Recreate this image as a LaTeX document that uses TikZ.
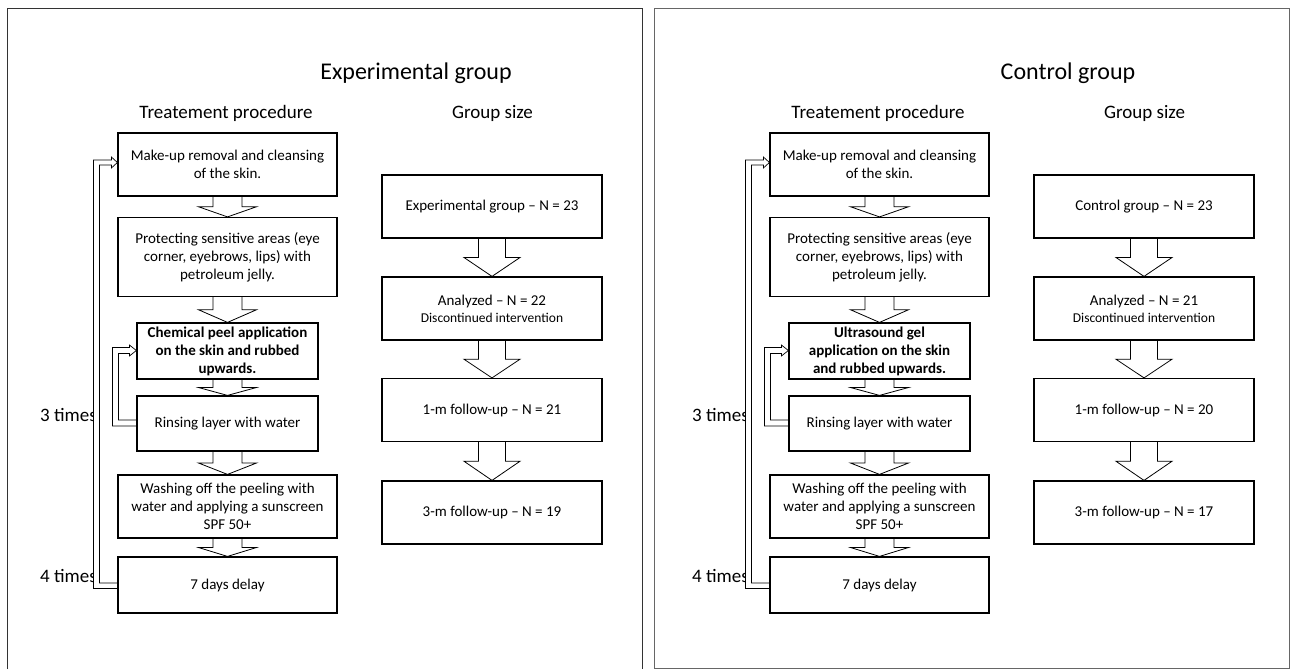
\documentclass[tikz,border=0pt]{standalone}
\usepackage{fontspec}
\setmainfont{Carlito}
\usetikzlibrary{calc,backgrounds}

\tikzset{
  stepbox/.style={draw=black, line width=1.2pt, inner sep=0pt, align=center,
    font=\fontsize{15}{18}\selectfont},
  widebox/.style={stepbox, minimum width=219pt},
  narrowbox/.style={stepbox, minimum width=181pt},
  gbox/.style={stepbox, minimum width=220pt, minimum height=63pt},
  barrowline/.style={draw=black, line width=0.8pt, line join=miter},
  loopline/.style={draw=black, fill=white, line width=0.7pt, line join=miter},
  titletext/.style={font=\fontsize{24}{29}\selectfont, anchor=base, inner sep=0pt},
  headtext/.style={font=\fontsize{19}{23}\selectfont, anchor=base, inner sep=0pt},
  timestext/.style={font=\fontsize{19}{23}\selectfont, anchor=base east, inner sep=0pt},
  frameline/.style={line width=1pt, draw=black!80},
}

% block arrow between two named nodes: #1 from, #2 to, #3 half shaft, #4 half head
\newcommand\barrow[4]{%
  \coordinate (ba) at (#1.south);
  \coordinate (bb) at (#2.north);
  \coordinate (bm) at ($(ba)!0.5!(bb)$);
  \draw[barrowline] ($(ba)+(-#3,0)$) -- ($(bm)+(-#3,0)$) -- ($(bm)+(-#4,0)$)
     -- (bb) -- ($(bm)+(#4,0)$) -- ($(bm)+(#3,0)$) -- ($(ba)+(#3,0)$);
}

% one panel: #1 prefix, #2 x offset, #3 title, #4 bold box text, #5 first group box, #6-#8 numbers
\newcommand\drawpanel[8]{%
  \node[titletext] (#1title) at (#2+416,80) {#3};
  \node[headtext] (#1hproc) at (#2+226,118) {Treatement procedure};
  \node[headtext] (#1hsize) at (#2+492.5,118) {Group size};
  \node[widebox, minimum height=63pt] (#1b1) at (#2+227.5,164.5)
     {Make-up removal and cleansing\\of the skin.};
  \node[widebox, minimum height=79pt] (#1b2) at (#2+227.5,257)
     {Protecting sensitive areas (eye\\corner, eyebrows, lips) with\\petroleum jelly.};
  \node[narrowbox, minimum height=56pt, font=\fontsize{15}{18}\selectfont\bfseries] (#1b3)
     at (#2+227.5,351) {#4};
  \node[narrowbox, minimum height=55pt] (#1b4) at (#2+227.5,423.5) {Rinsing layer with water};
  \node[widebox, minimum height=63pt] (#1b5) at (#2+227.5,506.5)
     {Washing off the peeling with\\water and applying a sunscreen\\SPF 50+};
  \node[widebox, minimum height=56pt] (#1b6) at (#2+227.5,585) {7 days delay};
  \node[gbox] (#1g1) at (#2+492,206.5) {#5};
  \node[gbox] (#1g2) at (#2+492,308.5)
     {Analyzed – N = #6\\[-1pt]{\fontsize{13.5}{16}\selectfont Discontinued intervention}};
  \node[gbox] (#1g3) at (#2+492,410) {1-m follow-up – N = #7};
  \node[gbox] (#1g4) at (#2+492,512.5) {3-m follow-up – N = #8};
  \barrow{#1b1}{#1b2}{14.5}{29}
  \barrow{#1b2}{#1b3}{14.5}{29}
  \barrow{#1b3}{#1b4}{14.5}{29}
  \barrow{#1b4}{#1b5}{14.5}{29}
  \barrow{#1b5}{#1b6}{14.5}{29}
  \barrow{#1g1}{#1g2}{13.5}{28}
  \barrow{#1g2}{#1g3}{13.5}{28}
  \barrow{#1g3}{#1g4}{13.5}{28}
  \begin{pgfonlayer}{background}
    \node[timestext] (#1three) at (#2+97,421) {3 times};
    \node[timestext] (#1four) at (#2+97,582) {4 times};
    \draw[loopline] ($(#1b4.west)+(0,2.5)$) -| ($(#1b3.west)+(-24,-3.5)$)
       -- ++(17,0) -- ++(0,-2.5) -- ($(#1b3.west)+(0,-0.5)$) -- ++(-7,5.5)
       -- ++(0,-2.5) -- ++(-11,0) |- ($(#1b4.west)+(0,-3.5)$);
    \draw[loopline] ($(#1b6.west)+(0,3.5)$) -| ($(#1b1.west)+(-24,-4.5)$)
       -- ++(18,0) -- ++(0,-3) -- ($(#1b1.west)+(0,-2)$) -- ++(-6,5.5)
       -- ++(0,-3) -- ++(-12,0) |- ($(#1b6.west)+(0,-2)$);
  \end{pgfonlayer}
}

\begin{document}
\begin{tikzpicture}[x=1pt,y=-1pt]
  \useasboundingbox (0,0) rectangle (1295,669);
  \begin{pgfonlayer}{background}
    \fill[white] (0,0) rectangle (1295,669);
  \end{pgfonlayer}
  \draw[frameline] (7.5,669) -- (7.5,8.5) -- (642,8.5) -- (642,669);
  \draw[frameline, draw=black!60] (654,668) rectangle (1289,8.5);
  \drawpanel{e}{0}{Experimental group}{Chemical peel application\\on the skin and rubbed\\upwards.}{Experimental group – N = 23}{22}{21}{19}
  \drawpanel{c}{652}{Control group}{Ultrasound gel\\application on the skin\\and rubbed upwards.}{Control group – N = 23}{21}{20}{17}
\end{tikzpicture}
\end{document}
